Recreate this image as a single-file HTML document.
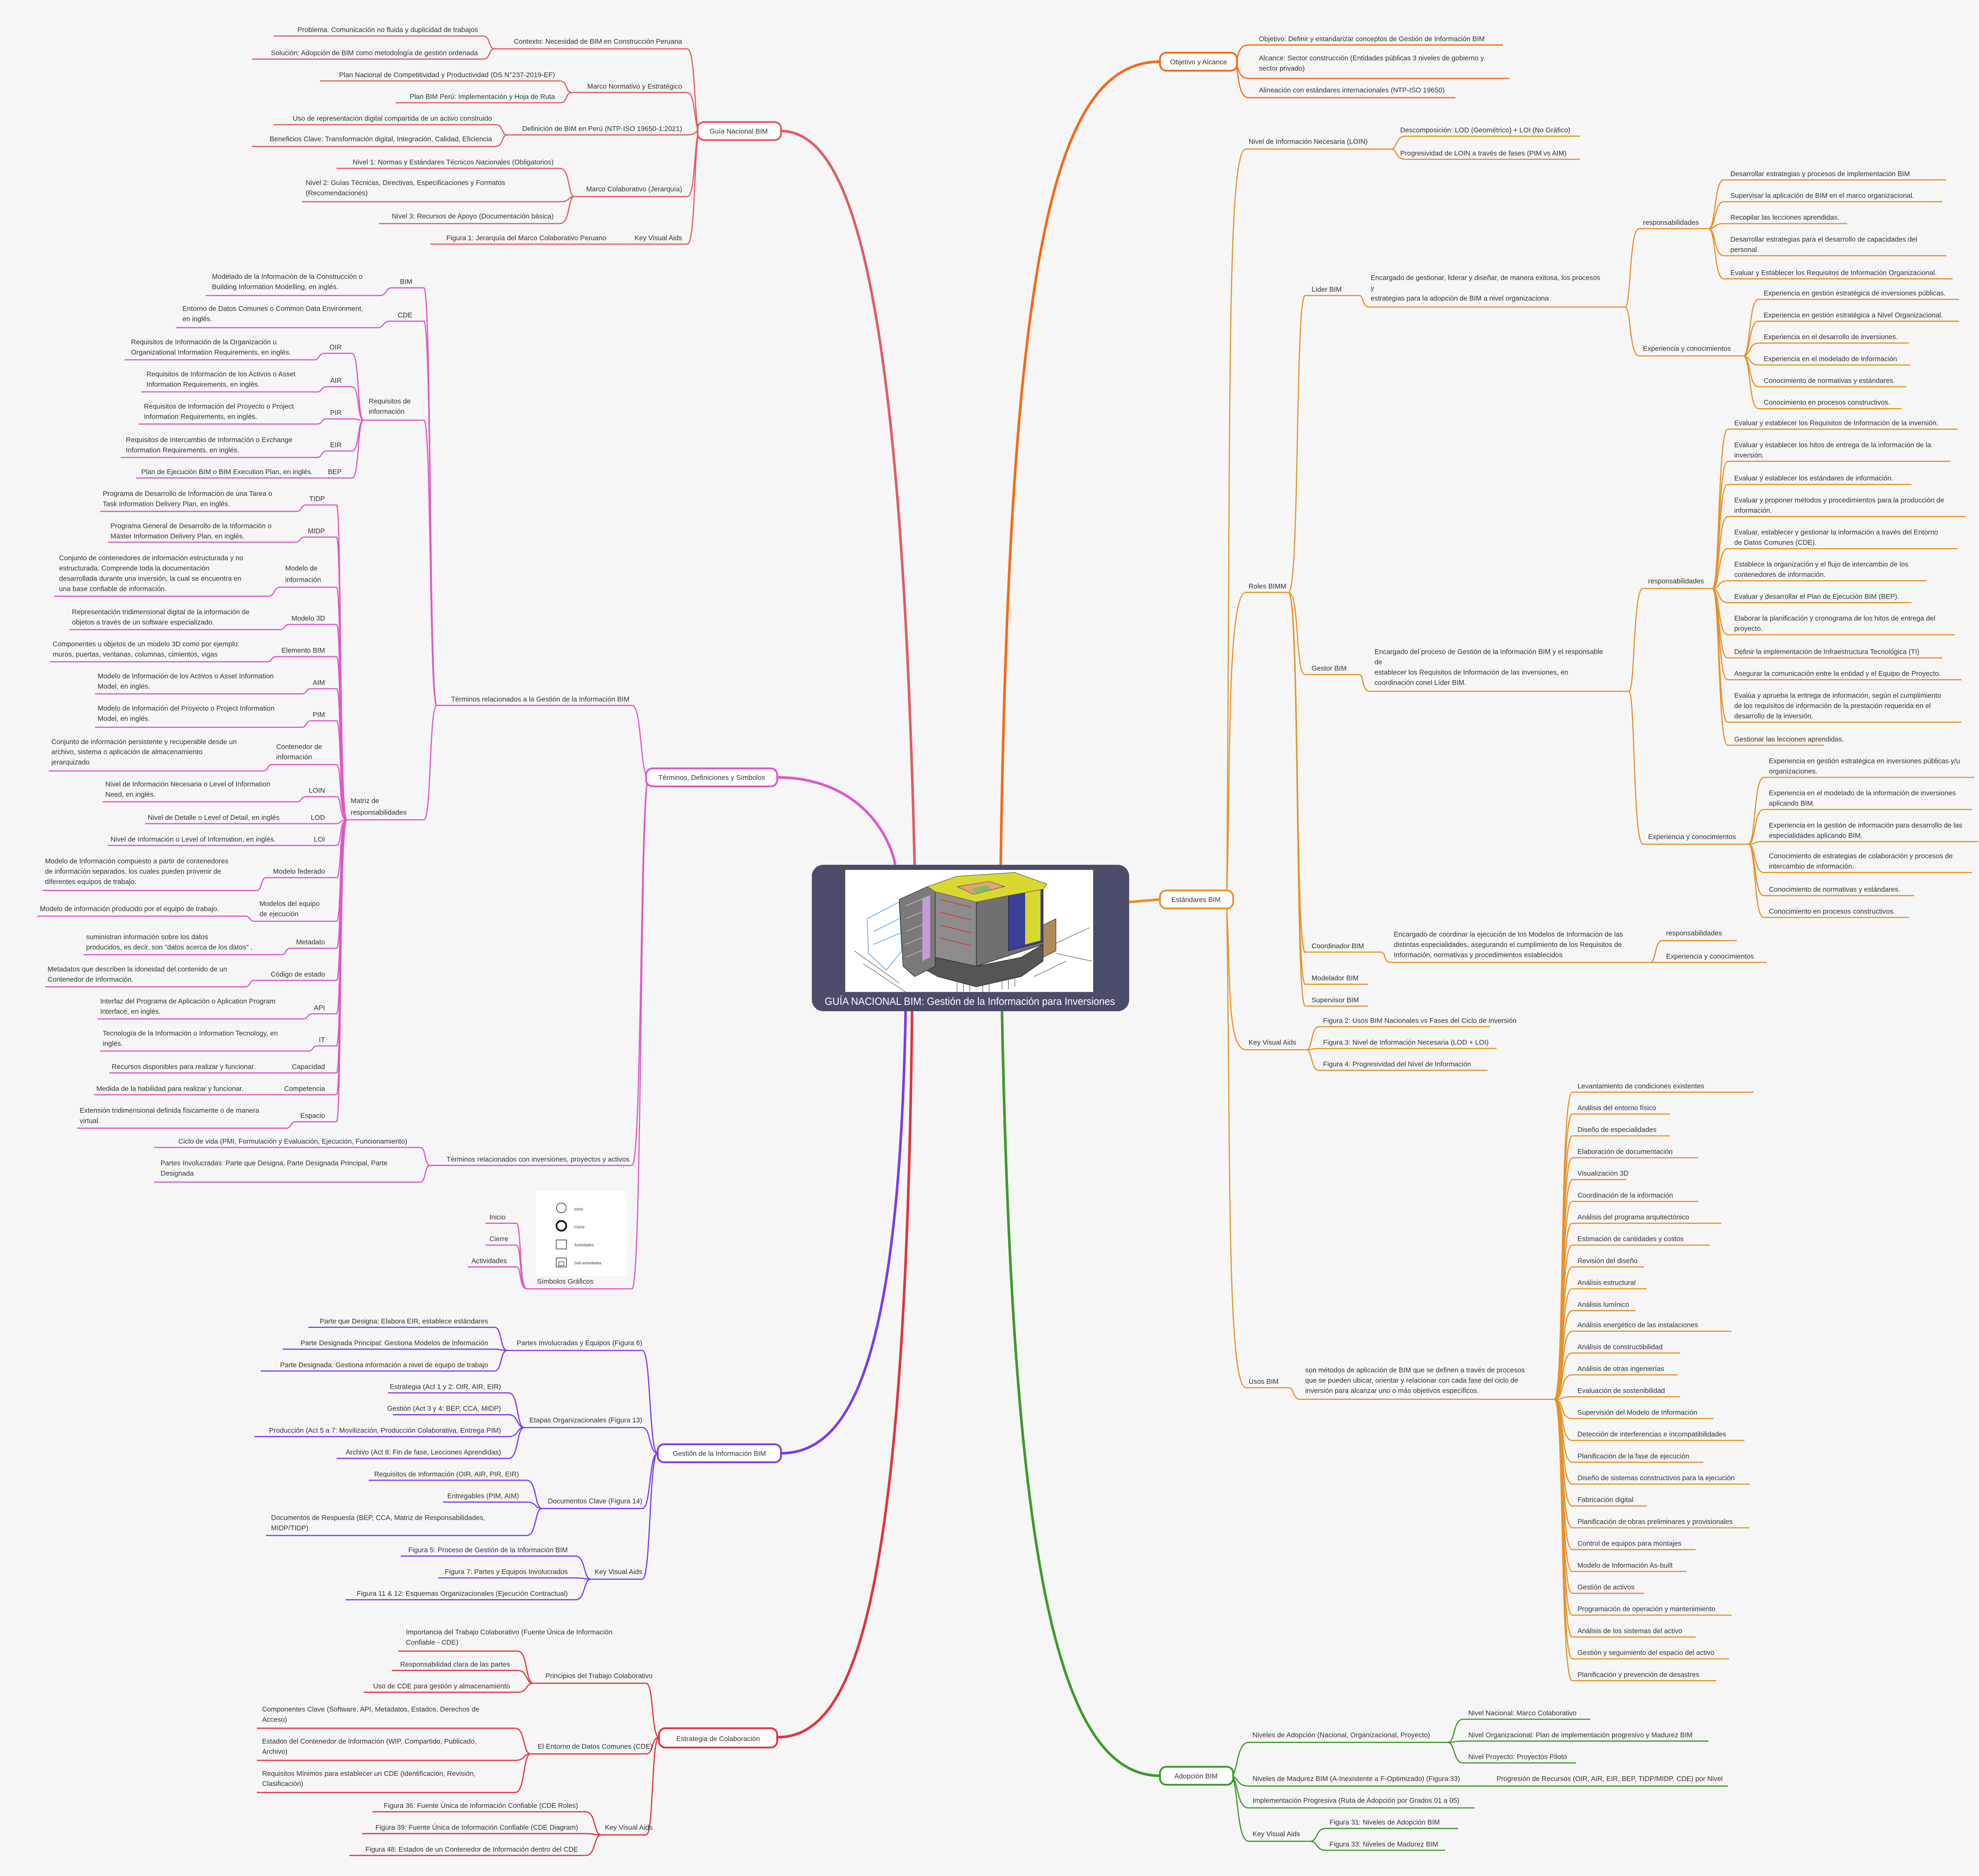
<!DOCTYPE html>
<html><head><meta charset="utf-8"><style>
html,body{margin:0;padding:0;background:#f6f6f6}
svg{display:block}
text{font-family:"Liberation Sans",sans-serif;font-size:5.4px;fill:#333;stroke:none}
.l{text-anchor:end}
</style></head><body>
<svg width="5089" height="4740" viewBox="0 0 1568 1460" preserveAspectRatio="none" xmlns="http://www.w3.org/2000/svg">
<rect width="1568" height="1460" fill="#f6f6f6"/>

<g stroke-width="2" fill="none">
<path stroke="#f96815" d="M779,673 C786,200 820,48 903,48"/>
<path stroke="#e8922a" d="M879,702 L903,700"/>
<path stroke="#3c9a28" d="M780,787 C788,1200 820,1382 903,1382"/>
<path stroke="#e15b64" d="M712,673 C702,250 668,102 608,102"/>
<path stroke="#e056c8" d="M697,673 C690,640 660,605 605,605"/>
<path stroke="#7c3aed" d="M705,787 C700,1050 665,1131 608,1131"/>
<path stroke="#e3323d" d="M710,787 C705,1250 665,1352 605,1352"/>
</g>

<!-- ============ OBJETIVO ============ -->
<g stroke="#f96815" stroke-width="0.9" fill="none">
<path d="M960,48 C965,48 962,35 972,35 H1170"/>
<path d="M960,48 C965,48 962,61 972,61 H1175"/>
<path d="M960,48 C965,48 962,76 972,76 H1133"/>
<rect x="903" y="41" width="60" height="14" rx="5" fill="#fff" stroke-width="1.4"/>
</g>
<text x="933" y="50" text-anchor="middle">Objetivo y Alcance</text>
<text x="980" y="32">Objetivo: Definir y estandarizar conceptos de Gestión de Información BIM</text>
<text x="980" y="47">Alcance: Sector construcción (Entidades públicas 3 niveles de gobierno y</text>
<text x="980" y="55">sector privado)</text>
<text x="980" y="72">Alineación con estándares internacionales (NTP-ISO 19650)</text>

<!-- ============ ESTANDARES ============ -->
<g stroke="#e8922a" stroke-width="0.9" fill="none">
<path d="M955,700 C958,300 955,116 970,116 H1083"/>
<path d="M1083,116 C1088,116 1086,106 1094,106 H1230"/>
<path d="M1083,116 C1088,116 1086,124 1094,124 H1230"/>
<path d="M955,700 C958,600 955,461 970,461 H1003"/>
<path d="M1003,461 C1012,461 1008,230 1016,230 H1058"/>
<path d="M1058,230 C1062,230 1060,239 1066,239 H1265"/>
<path d="M1265,239 C1270,239 1268,178 1276,178 H1330"/>
<path d="M1265,239 C1270,239 1268,277 1276,277 H1357"/>
<path d="M1330,178 C1336,178 1334,140 1342,140 H1515"/>
<path d="M1330,178 C1336,178 1334,157 1342,157 H1512"/>
<path d="M1330,178 C1336,178 1334,174 1342,174 H1438"/>
<path d="M1330,178 C1336,178 1334,199 1342,199 H1515"/>
<path d="M1330,178 C1336,178 1334,217 1342,217 H1520"/>
<path d="M1357,277 C1363,277 1361,233 1369,233 H1525"/>
<path d="M1357,277 C1363,277 1361,250 1369,250 H1525"/>
<path d="M1357,277 C1363,277 1361,267 1369,267 H1486"/>
<path d="M1357,277 C1363,277 1361,284 1369,284 H1487"/>
<path d="M1357,277 C1363,277 1361,301 1369,301 H1484"/>
<path d="M1357,277 C1363,277 1361,318 1369,318 H1480"/>
<path d="M1003,461 C1012,461 1008,525 1016,525 H1058"/>
<path d="M1058,525 C1062,525 1060,538 1066,538 H1268"/>
<path d="M1268,538 C1273,538 1271,458 1279,458 H1333"/>
<path d="M1268,538 C1273,538 1271,657 1279,657 H1361"/>
<path d="M1333,458 C1339,458 1337,334 1345,334 H1524"/>
<path d="M1333,458 C1339,458 1337,359 1345,359 H1518"/>
<path d="M1333,458 C1339,458 1337,377 1345,377 H1488"/>
<path d="M1333,458 C1339,458 1337,402 1345,402 H1530"/>
<path d="M1333,458 C1339,458 1337,427 1345,427 H1524"/>
<path d="M1333,458 C1339,458 1337,452 1345,452 H1500"/>
<path d="M1333,458 C1339,458 1337,469 1345,469 H1488"/>
<path d="M1333,458 C1339,458 1337,494 1345,494 H1522"/>
<path d="M1333,458 C1339,458 1337,512 1345,512 H1512"/>
<path d="M1333,458 C1339,458 1337,529 1345,529 H1527"/>
<path d="M1333,458 C1339,458 1337,562 1345,562 H1527"/>
<path d="M1333,458 C1339,458 1337,580 1345,580 H1420"/>
<path d="M1361,657 C1367,657 1365,605 1373,605 H1537"/>
<path d="M1361,657 C1367,657 1365,630 1373,630 H1535"/>
<path d="M1361,657 C1367,657 1365,655 1373,655 H1540"/>
<path d="M1361,657 C1367,657 1365,679 1373,679 H1535"/>
<path d="M1361,657 C1367,657 1365,697 1373,697 H1490"/>
<path d="M1361,657 C1367,657 1365,714 1373,714 H1486"/>
<path d="M1003,461 C1012,461 1008,741 1016,741 H1075"/>
<path d="M1075,741 C1079,741 1077,749 1082,749 H1285"/>
<path d="M1285,749 C1289,749 1288,732 1294,732 H1352"/>
<path d="M1285,749 C1289,749 1288,749 1294,749 H1375"/>
<path d="M1003,461 C1012,461 1008,766 1016,766 H1065"/>
<path d="M1003,461 C1012,461 1008,783 1016,783 H1065"/>
<path d="M955,707 C958,760 955,817 970,817 H1017"/>
<path d="M1017,817 C1022,817 1020,799 1027,799 H1160"/>
<path d="M1017,817 C1022,817 1020,816 1027,816 H1165"/>
<path d="M1017,817 C1022,817 1020,833 1027,833 H1158"/>
<path d="M955,707 C958,900 955,1080 970,1080 H1003"/>
<path d="M1003,1080 C1008,1080 1006,1089 1012,1089 H1210"/>
<path d="M1210,1089 C1218,1089 1214,850 1224,850 H1365"/>
<path d="M1210,1089 C1218,1089 1214,867 1224,867 H1300"/>
<path d="M1210,1089 C1218,1089 1214,884 1224,884 H1300"/>
<path d="M1210,1089 C1218,1089 1214,901 1224,901 H1322"/>
<path d="M1210,1089 C1218,1089 1214,918 1224,918 H1266"/>
<path d="M1210,1089 C1218,1089 1214,935 1224,935 H1322"/>
<path d="M1210,1089 C1218,1089 1214,952 1224,952 H1340"/>
<path d="M1210,1089 C1218,1089 1214,969 1224,969 H1331"/>
<path d="M1210,1089 C1218,1089 1214,986 1224,986 H1280"/>
<path d="M1210,1089 C1218,1089 1214,1003 1224,1003 H1282"/>
<path d="M1210,1089 C1218,1089 1214,1020 1224,1020 H1273"/>
<path d="M1210,1089 C1218,1089 1214,1036 1224,1036 H1348"/>
<path d="M1210,1089 C1218,1089 1214,1053 1224,1053 H1308"/>
<path d="M1210,1089 C1218,1089 1214,1070 1224,1070 H1306"/>
<path d="M1210,1089 C1218,1089 1214,1087 1224,1087 H1308"/>
<path d="M1210,1089 C1218,1089 1214,1104 1224,1104 H1334"/>
<path d="M1210,1089 C1218,1089 1214,1121 1224,1121 H1358"/>
<path d="M1210,1089 C1218,1089 1214,1138 1224,1138 H1326"/>
<path d="M1210,1089 C1218,1089 1214,1155 1224,1155 H1362"/>
<path d="M1210,1089 C1218,1089 1214,1172 1224,1172 H1282"/>
<path d="M1210,1089 C1218,1089 1214,1189 1224,1189 H1362"/>
<path d="M1210,1089 C1218,1089 1214,1206 1224,1206 H1320"/>
<path d="M1210,1089 C1218,1089 1214,1223 1224,1223 H1313"/>
<path d="M1210,1089 C1218,1089 1214,1240 1224,1240 H1280"/>
<path d="M1210,1089 C1218,1089 1214,1257 1224,1257 H1348"/>
<path d="M1210,1089 C1218,1089 1214,1274 1224,1274 H1320"/>
<path d="M1210,1089 C1218,1089 1214,1291 1224,1291 H1346"/>
<path d="M1210,1089 C1218,1089 1214,1308 1224,1308 H1336"/>
<rect x="903" y="693" width="57" height="14" rx="5" fill="#fff" stroke-width="1.4"/>
</g>
<text x="931" y="702" text-anchor="middle">Estándares BIM</text>
<text x="972" y="112">Nivel de Información Necesaria (LOIN)</text>
<text x="1090" y="103">Descomposición: LOD (Geométrico) + LOI (No Gráfico)</text>
<text x="1090" y="121">Progresividad de LOIN a través de fases (PIM vs AIM)</text>
<text x="972" y="458">Roles BIMM</text>
<text x="1021" y="227">Líder BIM</text>
<text x="1067" y="218">Encargado de gestionar, liderar y diseñar, de manera exitosa, los procesos</text>
<text x="1067" y="226">y</text>
<text x="1067" y="234">estrategias para la adopción de BIM a nivel organizaciona</text>
<text x="1279" y="175">responsabilidades</text>
<text x="1347" y="137">Desarrollar estrategias y procesos de implementación BIM</text>
<text x="1347" y="154">Supervisar la aplicación de BIM en el marco organizacional.</text>
<text x="1347" y="171">Recopilar las lecciones aprendidas.</text>
<text x="1347" y="188">Desarrollar estrategias para el desarrollo de capacidades del</text>
<text x="1347" y="196">personal.</text>
<text x="1347" y="214">Evaluar y Establecer los Requisitos de Información Organizacional.</text>
<text x="1279" y="273">Experiencia y conocimientos</text>
<text x="1373" y="230">Experiencia en gestión estratégica de inversiones públicas.</text>
<text x="1373" y="247">Experiencia en gestión estratégica a Nivel Organizacional.</text>
<text x="1373" y="264">Experiencia en el desarrollo de inversiones.</text>
<text x="1373" y="281">Experiencia en el modelado de Información</text>
<text x="1373" y="298">Conocimiento de normativas y estándares.</text>
<text x="1373" y="315">Conocimiento en procesos constructivos.</text>
<text x="1021" y="522">Gestor BIM</text>
<text x="1070" y="509">Encargado del proceso de Gestión de la Información BIM y el responsable</text>
<text x="1070" y="517">de</text>
<text x="1070" y="525">establecer los Requisitos de Información de las inversiones, en</text>
<text x="1070" y="533">coordinación conel Líder BIM.</text>
<text x="1283" y="454">responsabilidades</text>
<text x="1350" y="331">Evaluar y establecer los Requisitos de Información de la inversión.</text>
<text x="1350" y="348">Evaluar y establecer los hitos de entrega de la información de la</text>
<text x="1350" y="356">inversión.</text>
<text x="1350" y="374">Evaluar y establecer los estándares de información.</text>
<text x="1350" y="391">Evaluar y proponer métodos y procedimientos para la producción de</text>
<text x="1350" y="399">información.</text>
<text x="1350" y="416">Evaluar, establecer y gestionar la información a través del Entorno</text>
<text x="1350" y="424">de Datos Comunes (CDE).</text>
<text x="1350" y="441">Establece la organización y el flujo de intercambio de los</text>
<text x="1350" y="449">contenedores de información.</text>
<text x="1350" y="466">Evaluar y desarrollar el Plan de Ejecución BIM (BEP).</text>
<text x="1350" y="483">Elaborar la planificación y cronograma de los hitos de entrega del</text>
<text x="1350" y="491">proyecto.</text>
<text x="1350" y="509">Definir la implementación de Infraestructura Tecnológica (TI)</text>
<text x="1350" y="526">Asegurar la comunicación entre la entidad y el Equipo de Proyecto.</text>
<text x="1350" y="543">Evalúa y aprueba la entrega de información, según el cumplimiento</text>
<text x="1350" y="551">de los requisitos de información de la prestación requerida en el</text>
<text x="1350" y="559">desarrollo de la inversión.</text>
<text x="1350" y="577">Gestionar las lecciones aprendidas.</text>
<text x="1283" y="653">Experiencia y conocimientos</text>
<text x="1377" y="594">Experiencia en gestión estratégica en inversiones públicas y/u</text>
<text x="1377" y="602">organizaciones.</text>
<text x="1377" y="619">Experiencia en el modelado de la información de inversiones</text>
<text x="1377" y="627">aplicando BIM.</text>
<text x="1377" y="644">Experiencia en la gestión de información para desarrollo de las</text>
<text x="1377" y="652">especialidades aplicando BIM.</text>
<text x="1377" y="668">Conocimiento de estrategias de colaboración y procesos de</text>
<text x="1377" y="676">intercambio de información.</text>
<text x="1377" y="694">Conocimiento de normativas y estándares.</text>
<text x="1377" y="711">Conocimiento en procesos constructivos.</text>
<text x="1021" y="738">Coordinador BIM</text>
<text x="1085" y="729">Encargado de coordinar la ejecución de los Modelos de Información de las</text>
<text x="1085" y="737">distintas especialidades, asegurando el cumplimiento de los Requisitos de</text>
<text x="1085" y="745">Información, normativas y procedimientos establecidos</text>
<text x="1297" y="728">responsabilidades</text>
<text x="1297" y="746">Experiencia y conocimientos</text>
<text x="1021" y="763">Modelador BIM</text>
<text x="1021" y="780">Supervisor BIM</text>
<text x="972" y="813">Key Visual Aids</text>
<text x="1030" y="796">Figura 2: Usos BIM Nacionales vs Fases del Ciclo de Inversión</text>
<text x="1030" y="813">Figura 3: Nivel de Información Necesaria (LOD + LOI)</text>
<text x="1030" y="830">Figura 4: Progresividad del Nivel de Información</text>
<text x="972" y="1077">Usos BIM</text>
<text x="1016" y="1068">son métodos de aplicación de BIM que se definen a través de procesos</text>
<text x="1016" y="1076">que se pueden ubicar, orientar y relacionar con cada fase del ciclo de</text>
<text x="1016" y="1084">inversión para alcanzar uno o más objetivos específicos.</text>
<text x="1228" y="847">Levantamiento de condiciones existentes</text>
<text x="1228" y="864">Análisis del entorno físico</text>
<text x="1228" y="881">Diseño de especialidades</text>
<text x="1228" y="898">Elaboración de documentación</text>
<text x="1228" y="915">Visualización 3D</text>
<text x="1228" y="932">Coordinación de la información</text>
<text x="1228" y="949">Análisis del programa arquitectónico</text>
<text x="1228" y="966">Estimación de cantidades y costos</text>
<text x="1228" y="983">Revisión del diseño</text>
<text x="1228" y="1000">Análisis estructural</text>
<text x="1228" y="1017">Análisis lumínico</text>
<text x="1228" y="1033">Análisis energético de las instalaciones</text>
<text x="1228" y="1050">Análisis de constructibilidad</text>
<text x="1228" y="1067">Análisis de otras ingenierías</text>
<text x="1228" y="1084">Evaluación de sostenibilidad</text>
<text x="1228" y="1101">Supervisión del Modelo de Información</text>
<text x="1228" y="1118">Detección de interferencias e incompatibilidades</text>
<text x="1228" y="1135">Planificación de la fase de ejecución</text>
<text x="1228" y="1152">Diseño de sistemas constructivos para la ejecución</text>
<text x="1228" y="1169">Fabricación digital</text>
<text x="1228" y="1186">Planificación de obras preliminares y provisionales</text>
<text x="1228" y="1203">Control de equipos para montajes</text>
<text x="1228" y="1220">Modelo de Información As-built</text>
<text x="1228" y="1237">Gestión de activos</text>
<text x="1228" y="1254">Programación de operación y mantenimiento</text>
<text x="1228" y="1271">Análisis de los sistemas del activo</text>
<text x="1228" y="1288">Gestión y seguimiento del espacio del activo</text>
<text x="1228" y="1305">Planificación y prevención de desastres</text>

<!-- ============ ADOPCION ============ -->
<g stroke="#3c9a28" stroke-width="0.9" fill="none">
<path d="M958,1382 C964,1382 962,1356 972,1356 H1127"/>
<path d="M1127,1356 C1133,1356 1131,1338 1139,1338 H1238"/>
<path d="M1127,1356 C1133,1356 1131,1355 1139,1355 H1330"/>
<path d="M1127,1356 C1133,1356 1131,1372 1139,1372 H1227"/>
<path d="M958,1382 C964,1382 962,1390 972,1390 H1148"/>
<path d="M1148,1390 L1345,1390"/>
<path d="M958,1382 C964,1382 962,1407 972,1407 H1148"/>
<path d="M958,1382 C964,1382 962,1433 972,1433 H1020"/>
<path d="M1020,1433 C1026,1433 1024,1423 1032,1423 H1135"/>
<path d="M1020,1433 C1026,1433 1024,1440 1032,1440 H1125"/>
<rect x="903" y="1375" width="57" height="14" rx="5" fill="#fff" stroke-width="1.4"/>
</g>
<text x="931" y="1384" text-anchor="middle">Adopción BIM</text>
<text x="975" y="1352">Niveles de Adopción (Nacional, Organizacional, Proyecto)</text>
<text x="1143" y="1335">Nivel Nacional: Marco Colaborativo</text>
<text x="1143" y="1352">Nivel Organizacional: Plan de implementación progresivo y Madurez BIM</text>
<text x="1143" y="1369">Nivel Proyecto: Proyectos Piloto</text>
<text x="975" y="1386">Niveles de Madurez BIM (A-Inexistente a F-Optimizado) (Figura 33)</text>
<text x="1165" y="1386">Progresión de Recursos (OIR, AIR, EIR, BEP, TIDP/MIDP, CDE) por Nivel</text>
<text x="975" y="1403">Implementación Progresiva (Ruta de Adopción por Grados 01 a 05)</text>
<text x="975" y="1429">Key Visual Aids</text>
<text x="1035" y="1420">Figura 31: Niveles de Adopción BIM</text>
<text x="1035" y="1437">Figura 33: Niveles de Madurez BIM</text>

<!-- ============ GUIA NACIONAL ============ -->
<g stroke="#e15b64" stroke-width="0.9" fill="none">
<path d="M545,102 C540,102 542,38 535,38 H385"/>
<path d="M545,102 C540,102 542,72 535,72 H445"/>
<path d="M545,102 C540,102 542,105 535,105 H395"/>
<path d="M545,102 C540,102 542,153 535,153 H447"/>
<path d="M545,102 C540,102 542,190 535,190 H490"/>
<path d="M385,38 C380,38 382,28 376,28 H213"/>
<path d="M385,38 C380,38 382,46 376,46 H196"/>
<path d="M445,72 C440,72 442,63 436,63 H249"/>
<path d="M445,72 C440,72 442,80 436,80 H308"/>
<path d="M395,105 C390,105 392,97 386,97 H213"/>
<path d="M395,105 C390,105 392,114 386,114 H196"/>
<path d="M447,153 C442,153 444,131 436,131 H262"/>
<path d="M447,153 C442,153 444,157 436,157 H235"/>
<path d="M447,153 C442,153 444,174 436,174 H295"/>
<path d="M490,190 H335"/>
<rect x="543" y="95" width="65" height="14" rx="5" fill="#fff" stroke-width="1.4"/>
</g>
<text x="575" y="104" text-anchor="middle">Guía Nacional BIM</text>
<text x="531" y="34" class="l">Contexto: Necesidad de BIM en Construcción Peruana</text>
<text x="372" y="25" class="l">Problema: Comunicación no fluida y duplicidad de trabajos</text>
<text x="372" y="43" class="l">Solución: Adopción de BIM como metodología de gestión ordenada</text>
<text x="531" y="69" class="l">Marco Normativo y Estratégico</text>
<text x="432" y="60" class="l">Plan Nacional de Competitividad y Productividad (DS N°237-2019-EF)</text>
<text x="432" y="77" class="l">Plan BIM Perú: Implementación y Hoja de Ruta</text>
<text x="531" y="102" class="l">Definición de BIM en Perú (NTP-ISO 19650-1:2021)</text>
<text x="383" y="94" class="l">Uso de representación digital compartida de un activo construido</text>
<text x="383" y="110" class="l">Beneficios Clave: Transformación digital, Integración, Calidad, Eficiencia</text>
<text x="531" y="149" class="l">Marco Colaborativo (Jerarquía)</text>
<text x="431" y="128" class="l">Nivel 1: Normas y Estándares Técnicos Nacionales (Obligatorios)</text>
<text x="431" y="170" class="l">Nivel 3: Recursos de Apoyo (Documentación básica)</text>
<text x="531" y="187" class="l">Key Visual Aids</text>
<text x="472" y="187" class="l">Figura 1: Jerarquía del Marco Colaborativo Peruano</text>
<text x="238" y="144">Nivel 2: Guías Técnicas, Directivas, Especificaciones y Formatos</text>
<text x="238" y="152">(Recomendaciones)</text>

<!-- ============ TERMINOS ============ -->
<g stroke="#e056c8" stroke-width="0.9" fill="none">
<path d="M505,605 C498,605 500,549 492,549 H340"/>
<path d="M505,605 C498,605 500,907 492,907 H335"/>
<path d="M505,605 C498,605 500,1003 492,1003 H410"/>
<path d="M340,549 C334,549 336,224 330,224 H305"/>
<path d="M340,549 C334,549 336,250 330,250 H303"/>
<path d="M340,549 C334,549 336,327 330,327 H283"/>
<path d="M340,549 C334,549 336,638 330,638 H270"/>
<path d="M305,224 C300,224 301,230 296,230 H160"/>
<path d="M303,250 C298,250 299,255 294,255 H137"/>
<path d="M283,327 C278,327 280,275 274,275 H252"/>
<path d="M283,327 C278,327 280,301 274,301 H254"/>
<path d="M283,327 C278,327 280,326 274,326 H254"/>
<path d="M283,327 C278,327 280,351 274,351 H254"/>
<path d="M283,327 C278,327 280,372 274,372 H254"/>
<path d="M252,275 C248,275 249,280 245,280 H97"/>
<path d="M254,301 C250,301 251,305 247,305 H110"/>
<path d="M254,326 C250,326 251,330 247,330 H108"/>
<path d="M254,351 C250,351 251,356 247,356 H94"/>
<path d="M254,372 H106"/>
<path d="M270,638 C264,638 266,393 262,393 H238"/>
<path d="M270,638 C264,638 266,418 262,418 H237"/>
<path d="M270,638 C264,638 266,457 262,457 H218"/>
<path d="M270,638 C264,638 266,486 262,486 H225"/>
<path d="M270,638 C264,638 266,511 262,511 H215"/>
<path d="M270,638 C264,638 266,536 262,536 H242"/>
<path d="M270,638 C264,638 266,561 262,561 H242"/>
<path d="M270,638 C264,638 266,595 262,595 H212"/>
<path d="M270,638 C264,638 266,620 262,620 H238"/>
<path d="M270,638 C264,638 266,641 262,641 H242"/>
<path d="M270,638 C264,638 266,658 262,658 H243"/>
<path d="M270,638 C264,638 266,683 262,683 H207"/>
<path d="M270,638 C264,638 266,717 262,717 H198"/>
<path d="M270,638 C264,638 266,738 262,738 H226"/>
<path d="M270,638 C264,638 266,763 262,763 H198"/>
<path d="M270,638 C264,638 266,789 262,789 H243"/>
<path d="M270,638 C264,638 266,814 262,814 H247"/>
<path d="M270,638 C264,638 266,835 262,835 H224"/>
<path d="M270,638 C264,638 266,852 262,852 H216"/>
<path d="M270,638 C264,638 266,873 262,873 H230"/>
<path d="M238,393 C234,393 235,398 231,398 H78"/>
<path d="M237,418 C233,418 234,422 230,422 H84"/>
<path d="M218,457 C213,457 214,464 209,464 H42"/>
<path d="M225,486 C221,486 222,490 218,490 H54"/>
<path d="M215,511 C211,511 212,515 208,515 H39"/>
<path d="M242,536 C238,536 239,540 235,540 H74"/>
<path d="M242,561 C238,561 239,566 235,566 H74"/>
<path d="M212,595 C208,595 209,600 205,600 H38"/>
<path d="M238,620 C234,620 235,624 231,624 H80"/>
<path d="M242,641 H113"/>
<path d="M243,658 H84"/>
<path d="M207,683 C203,683 204,693 200,693 H33"/>
<path d="M198,717 C194,717 195,713 191,713 H29"/>
<path d="M226,738 C222,738 223,743 219,743 H65"/>
<path d="M198,763 C194,763 195,768 191,768 H35"/>
<path d="M243,789 C239,789 240,793 236,793 H76"/>
<path d="M247,814 C243,814 244,818 240,818 H78"/>
<path d="M224,835 H85"/>
<path d="M216,852 H73"/>
<path d="M230,873 C226,873 227,878 223,878 H60"/>
<path d="M335,907 C330,907 332,893 327,893 H120"/>
<path d="M335,907 C330,907 332,920 327,920 H120"/>
<path d="M410,1003 C404,1003 406,952 402,952 H378"/>
<path d="M410,1003 C404,1003 406,969 402,969 H378"/>
<path d="M410,1003 C404,1003 406,986 402,986 H364"/>
<rect x="503" y="598" width="102" height="14" rx="5" fill="#fff" stroke-width="1.4"/>
</g>
<text x="554" y="607" text-anchor="middle">Términos, Definiciones y Símbolos</text>
<text x="490" y="546" class="l">Términos relacionados a la Gestión de la Información BIM</text>
<text x="321" y="221" class="l">BIM</text>
<text x="165" y="217">Modelado de la Información de la Construcción o</text>
<text x="165" y="225">Building Information Modelling, en inglés.</text>
<text x="321" y="247" class="l">CDE</text>
<text x="142" y="242">Entorno de Datos Comunes o Common Data Environment,</text>
<text x="142" y="250">en inglés.</text>
<text x="287" y="314">Requisitos de</text>
<text x="287" y="322">información</text>
<text x="266" y="272" class="l">OIR</text>
<text x="266" y="298" class="l">AIR</text>
<text x="266" y="323" class="l">PIR</text>
<text x="266" y="348" class="l">EIR</text>
<text x="266" y="369" class="l">BEP</text>
<text x="102" y="268">Requisitos de Información de la Organización u</text>
<text x="102" y="276">Organizational Information Requirements, en inglés.</text>
<text x="114" y="293">Requisitos de Información de los Activos o Asset</text>
<text x="114" y="301">Information Requirements, en inglés.</text>
<text x="112" y="318">Requisitos de Información del Proyecto o Project</text>
<text x="112" y="326">Information Requirements, en inglés.</text>
<text x="98" y="344">Requisitos de Intercambio de Información o Exchange</text>
<text x="98" y="352">Information Requirements, en inglés.</text>
<text x="110" y="369">Plan de Ejecución BIM o BIM Execution Plan, en inglés.</text>
<text x="273" y="625">Matriz de</text>
<text x="273" y="634">responsabilidades</text>
<text x="253" y="390" class="l">TIDP</text>
<text x="80" y="386">Programa de Desarrollo de Información de una Tarea o</text>
<text x="80" y="394">Task Information Delivery Plan, en inglés.</text>
<text x="253" y="415" class="l">MIDP</text>
<text x="86" y="411">Programa General de Desarrollo de la Información o</text>
<text x="86" y="419">Máster Information Delivery Plan, en inglés.</text>
<text x="222" y="444">Modelo de</text>
<text x="222" y="453">información</text>
<text x="46" y="436">Conjunto de contenedores de información estructurada y no</text>
<text x="46" y="444">estructurada. Comprende toda la documentación</text>
<text x="46" y="452">desarrollada durante una inversión, la cual se encuentra en</text>
<text x="46" y="460">una base confiable de información.</text>
<text x="253" y="483" class="l">Modelo 3D</text>
<text x="56" y="478">Representación tridimensional digital de la información de</text>
<text x="56" y="486">objetos a través de un software especializado.</text>
<text x="253" y="508" class="l">Elemento BIM</text>
<text x="41" y="503">Componentes u objetos de un modelo 3D como por ejemplo:</text>
<text x="41" y="511">muros, puertas, ventanas, columnas, cimientos, vigas</text>
<text x="253" y="533" class="l">AIM</text>
<text x="76" y="528">Modelo de Información de los Activos o Asset Information</text>
<text x="76" y="536">Model, en inglés.</text>
<text x="253" y="558" class="l">PIM</text>
<text x="76" y="553">Modelo de Información del Proyecto o Project Information</text>
<text x="76" y="561">Model, en inglés.</text>
<text x="215" y="583">Contenedor de</text>
<text x="215" y="591">información</text>
<text x="40" y="579">Conjunto de información persistente y recuperable desde un</text>
<text x="40" y="587">archivo, sistema o aplicación de almacenamiento</text>
<text x="40" y="595">jerarquizado</text>
<text x="253" y="617" class="l">LOIN</text>
<text x="82" y="612">Nivel de Información Necesaria o Level of Information</text>
<text x="82" y="620">Need, en inglés.</text>
<text x="253" y="638" class="l">LOD</text>
<text x="115" y="638">Nivel de Detalle o Level of Detail, en inglés</text>
<text x="253" y="655" class="l">LOI</text>
<text x="86" y="655">Nivel de Información o Level of Information, en inglés.</text>
<text x="253" y="680" class="l">Modelo federado</text>
<text x="35" y="672">Modelo de Información compuesto a partir de contenedores</text>
<text x="35" y="680">de información separados, los cuales pueden provenir de</text>
<text x="35" y="688">diferentes equipos de trabajo.</text>
<text x="202" y="705">Modelos del equipo</text>
<text x="202" y="713">de ejecución</text>
<text x="31" y="709">Modelo de información producido por el equipo de trabajo.</text>
<text x="253" y="735" class="l">Metadato</text>
<text x="67" y="731">suministran información sobre los datos</text>
<text x="67" y="739">producidos, es decir, son "datos acerca de los datos" .</text>
<text x="253" y="760" class="l">Código de estado</text>
<text x="37" y="756">Metadatos que describen la idoneidad del contenido de un</text>
<text x="37" y="764">Contenedor de Información.</text>
<text x="253" y="786" class="l">API</text>
<text x="78" y="781">Interfaz del Programa de Aplicación o Aplication Program</text>
<text x="78" y="789">Interface, en inglés.</text>
<text x="253" y="811" class="l">IT</text>
<text x="80" y="806">Tecnología de la Información o Information Tecnology, en</text>
<text x="80" y="814">inglés.</text>
<text x="253" y="832" class="l">Capacidad</text>
<text x="87" y="832">Recursos disponibles para realizar y funcionar.</text>
<text x="253" y="849" class="l">Competencia</text>
<text x="75" y="849">Medida de la habilidad para realizar y funcionar.</text>
<text x="253" y="870" class="l">Espacio</text>
<text x="62" y="866">Extensión tridimensional definida físicamente o de manera</text>
<text x="62" y="874">virtual.</text>
<text x="490" y="904" class="l">Términos relacionados con inversiones, proyectos y activos</text>
<text x="317" y="890" class="l">Ciclo de vida (PMI, Formulación y Evaluación, Ejecución, Funcionamiento)</text>
<text x="125" y="907">Partes Involucradas: Parte que Designa, Parte Designada Principal, Parte</text>
<text x="125" y="915">Designada</text>
<text x="462" y="999" class="l">Símbolos Gráficos</text>
<text x="381" y="949">Inicio</text>
<text x="381" y="966">Cierre</text>
<text x="367" y="983">Actividades</text>
<rect x="417" y="927" width="71" height="66" fill="#fff"/>
<circle cx="437" cy="940" r="3.8" fill="none" stroke="#333" stroke-width="0.5"/>
<circle cx="437" cy="954" r="3.8" fill="none" stroke="#111" stroke-width="1.3"/>
<rect x="433" y="965" width="8" height="7" fill="none" stroke="#333" stroke-width="0.5"/>
<rect x="433" y="979" width="8" height="7" fill="none" stroke="#333" stroke-width="0.5"/>
<rect x="435" y="982" width="4" height="3" fill="none" stroke="#333" stroke-width="0.4"/>
<text x="447" y="942" style="font-size:3px">Inicio</text>
<text x="447" y="956" style="font-size:3px">Cierre</text>
<text x="447" y="970" style="font-size:3px">Actividades</text>
<text x="447" y="984" style="font-size:3px">Sub actividades</text>

<!-- ============ GESTION ============ -->
<g stroke="#7c3aed" stroke-width="0.9" fill="none">
<path d="M512,1131 C505,1131 507,1051 500,1051 H395"/>
<path d="M512,1131 C505,1131 507,1111 500,1111 H408"/>
<path d="M512,1131 C505,1131 507,1174 500,1174 H422"/>
<path d="M512,1131 C505,1131 507,1229 500,1229 H460"/>
<path d="M395,1051 C389,1051 391,1033 385,1033 H240"/>
<path d="M395,1051 C389,1051 391,1050 385,1050 H220"/>
<path d="M395,1051 C389,1051 391,1067 385,1067 H203"/>
<path d="M408,1111 C402,1111 404,1084 396,1084 H302"/>
<path d="M408,1111 C402,1111 404,1101 396,1101 H306"/>
<path d="M408,1111 C402,1111 404,1118 396,1118 H198"/>
<path d="M408,1111 C402,1111 404,1135 396,1135 H262"/>
<path d="M422,1174 C416,1174 418,1152 410,1152 H287"/>
<path d="M422,1174 C416,1174 418,1169 410,1169 H345"/>
<path d="M422,1174 C416,1174 418,1195 410,1195 H207"/>
<path d="M460,1229 C454,1229 456,1211 448,1211 H312"/>
<path d="M460,1229 C454,1229 456,1228 448,1228 H341"/>
<path d="M460,1229 C454,1229 456,1245 448,1245 H269"/>
<rect x="512" y="1124" width="96" height="14" rx="5" fill="#fff" stroke-width="1.4"/>
</g>
<text x="560" y="1133" text-anchor="middle">Gestión de la Información BIM</text>
<text x="500" y="1047" class="l">Partes Involucradas y Equipos (Figura 6)</text>
<text x="380" y="1030" class="l">Parte que Designa: Elabora EIR, establece estándares</text>
<text x="380" y="1047" class="l">Parte Designada Principal: Gestiona Modelos de Información</text>
<text x="380" y="1064" class="l">Parte Designada: Gestiona información a nivel de equipo de trabajo</text>
<text x="500" y="1107" class="l">Etapas Organizacionales (Figura 13)</text>
<text x="390" y="1081" class="l">Estrategia (Act 1 y 2: OIR, AIR, EIR)</text>
<text x="390" y="1098" class="l">Gestión (Act 3 y 4: BEP, CCA, MIDP)</text>
<text x="390" y="1115" class="l">Producción (Act 5 a 7: Movilización, Producción Colaborativa, Entrega PIM)</text>
<text x="390" y="1132" class="l">Archivo (Act 8: Fin de fase, Lecciones Aprendidas)</text>
<text x="500" y="1170" class="l">Documentos Clave (Figura 14)</text>
<text x="404" y="1149" class="l">Requisitos de Información (OIR, AIR, PIR, EIR)</text>
<text x="404" y="1166" class="l">Entregables (PIM, AIM)</text>
<text x="211" y="1183">Documentos de Respuesta (BEP, CCA, Matriz de Responsabilidades,</text>
<text x="211" y="1191">MIDP/TIDP)</text>
<text x="500" y="1225" class="l">Key Visual Aids</text>
<text x="442" y="1208" class="l">Figura 5: Proceso de Gestión de la Información BIM</text>
<text x="442" y="1225" class="l">Figura 7: Partes y Equipos Involucrados</text>
<text x="442" y="1242" class="l">Figura 11 &amp; 12: Esquemas Organizacionales (Ejecución Contractual)</text>

<!-- ============ ESTRATEGIA ============ -->
<g stroke="#e3323d" stroke-width="0.9" fill="none">
<path d="M513,1352 C507,1352 509,1310 503,1310 H415"/>
<path d="M513,1352 C507,1352 509,1365 503,1365 H413"/>
<path d="M513,1352 C507,1352 509,1428 503,1428 H468"/>
<path d="M415,1310 C409,1310 411,1285 403,1285 H310"/>
<path d="M415,1310 C409,1310 411,1300 403,1300 H305"/>
<path d="M415,1310 C409,1310 411,1317 403,1317 H283"/>
<path d="M413,1365 C407,1365 409,1345 401,1345 H200"/>
<path d="M413,1365 C407,1365 409,1370 401,1370 H200"/>
<path d="M413,1365 C407,1365 409,1395 401,1395 H200"/>
<path d="M468,1428 C462,1428 464,1410 456,1410 H290"/>
<path d="M468,1428 C462,1428 464,1427 456,1427 H282"/>
<path d="M468,1428 C462,1428 464,1444 456,1444 H272"/>
<rect x="513" y="1345" width="92" height="15" rx="5" fill="#fff" stroke-width="1.4"/>
</g>
<text x="559" y="1355" text-anchor="middle">Estrategia de Colaboración</text>
<text x="508" y="1306" class="l">Principios del Trabajo Colaborativo</text>
<text x="316" y="1272">Importancia del Trabajo Colaborativo (Fuente Única de Información</text>
<text x="316" y="1280">Confiable - CDE)</text>
<text x="397" y="1297" class="l">Responsabilidad clara de las partes</text>
<text x="397" y="1314" class="l">Uso de CDE para gestión y almacenamiento</text>
<text x="508" y="1361" class="l">El Entorno de Datos Comunes (CDE)</text>
<text x="204" y="1332">Componentes Clave (Software, API, Metadatos, Estados, Derechos de</text>
<text x="204" y="1340">Acceso)</text>
<text x="204" y="1357">Estados del Contenedor de Información (WIP, Compartido, Publicado,</text>
<text x="204" y="1365">Archivo)</text>
<text x="204" y="1382">Requisitos Mínimos para establecer un CDE (Identificación, Revisión,</text>
<text x="204" y="1390">Clasificación)</text>
<text x="508" y="1424" class="l">Key Visual Aids</text>
<text x="450" y="1407" class="l">Figura 36: Fuente Única de Información Confiable (CDE Roles)</text>
<text x="450" y="1424" class="l">Figura 39: Fuente Única de Información Confiable (CDE Diagram)</text>
<text x="450" y="1441" class="l">Figura 48: Estados de un Contenedor de Información dentro del CDE</text>

<!-- ============ CENTER ============ -->
<rect x="632" y="673" width="247" height="114" rx="9" fill="#4a4c6a"/>
<rect x="658" y="677" width="193" height="95" fill="#fff"/>
<g stroke-width="0.4">
<path d="M665,740 L700,765 M672,750 L705,772 M820,735 L848,722 M822,742 L850,748 M805,760 L830,748" stroke="#555" fill="none"/>
<path d="M675,715 L700,702 L702,740 L690,755 L676,742 Z M680,725 L700,715 M680,735 L701,726" fill="none" stroke="#6aa8e0" stroke-width="0.6"/>
<path d="M712,735 L740,745 L760,752 L795,745 L812,735 L812,748 L795,760 L760,768 L730,760 L712,750 Z" fill="#555" stroke="#222"/>
<path d="M700,700 L722,690 L728,692 L728,752 L712,760 L703,752 Z" fill="#7a7a7a" stroke="#222"/>
<path d="M705,705 L724,697 M705,715 L724,707 M705,725 L724,717 M705,735 L724,727 M705,745 L724,737" stroke="#ccc" fill="none"/>
<path d="M718,700 L724,697 L724,745 L718,748 Z" fill="#c79ad8"/>
<path d="M728,692 L760,700 L760,752 L728,745 Z" fill="#8c8c8c" stroke="#222"/>
<path d="M732,700 L756,706 M732,710 L756,716 M732,720 L756,726 M732,730 L756,736" stroke="#d33" stroke-width="0.6" fill="none"/>
<path d="M760,700 L812,690 L812,735 L760,752 Z" fill="#707070" stroke="#222"/>
<path d="M785,695 L812,690 L812,733 L785,740 Z" fill="#3a3f9a" stroke="#222"/>
<path d="M798,693 L810,690 L810,732 L798,735 Z" fill="#d8d830"/>
<path d="M722,690 L745,682 L790,679 L815,688 L812,692 L785,697 L760,702 L728,694 Z" fill="#d8d830" stroke="#555"/>
<path d="M745,690 L770,686 L782,690 L758,696 Z" fill="#e6a080" stroke="#555"/>
<path d="M755,692 L768,689 L772,692 L760,695 Z" fill="#7ac05a"/>
<path d="M745,760 V772 M750,762 V772 M755,763 V772 M765,764 V772 M770,763 V772 M780,758 V770 M785,756 V770 M790,754 V768" stroke="#555" fill="none"/>
<path d="M812,720 L822,715 L822,740 L812,745 Z" fill="#b08a5a" stroke="#333"/>
</g>
<text x="755" y="782" text-anchor="middle" textLength="226" lengthAdjust="spacingAndGlyphs" style="font-size:8.4px;fill:#fff">GUÍA NACIONAL BIM: Gestión de la Información para Inversiones</text>
</svg>
</body></html>
